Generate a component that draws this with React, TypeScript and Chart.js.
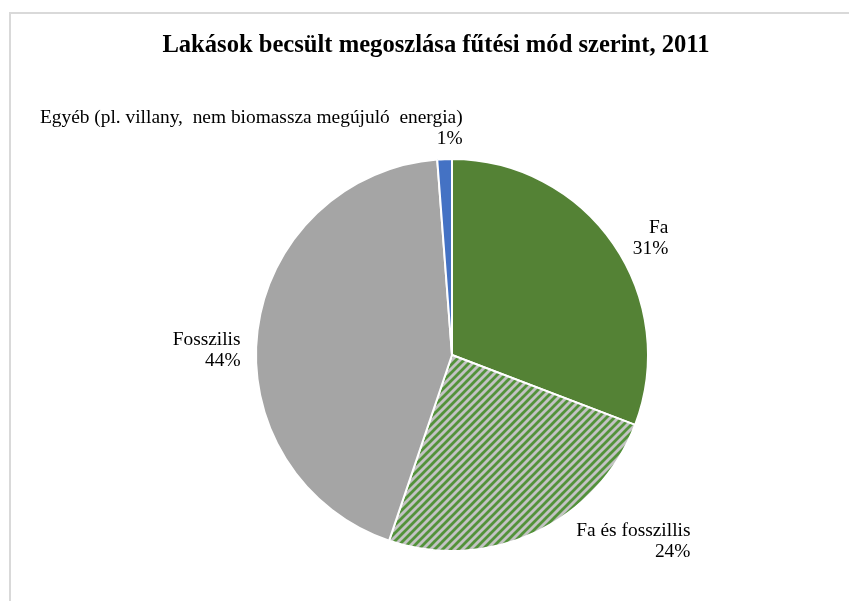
import React, { useEffect, useRef } from "react";
import { Chart, registerables } from "chart.js";

Chart.register(...registerables);

const categories = ["Fa", "Fa és fosszillis", "Fosszilis", "Egyéb (pl. villany,  nem biomassza megújuló  energia)"];
const values = [30.8, 24.4, 43.6, 1.2];
const titleText = "Lakások becsült megoszlása fűtési mód szerint, 2011";

// label placement relative to the outer edge of each slice (right-aligned text block)
const labelOffsets = [
  { dx: 55, dy: -5 },
  { dx: 155, dy: 9 },
  { dx: -17, dy: 20 },
  { dx: 18, dy: -31 },
];

function makeHatch(): CanvasPattern | string {
  const c = document.createElement("canvas");
  c.width = 8;
  c.height = 8;
  const ctx = c.getContext("2d");
  if (!ctx) return "#a5a5a5";
  ctx.fillStyle = "#c3c3c3";
  ctx.fillRect(0, 0, 8, 8);
  ctx.strokeStyle = "#53923a";
  ctx.lineWidth = 2.8;
  ctx.lineCap = "square";
  for (const k of [-8, 0, 8]) {
    ctx.beginPath();
    ctx.moveTo(k - 2, 10);
    ctx.lineTo(k + 10, -2);
    ctx.stroke();
  }
  const p = ctx.createPattern(c, "repeat");
  return p || "#a5a5a5";
}

const labelPlugin = {
  id: "outsideLabels",
  afterDraw(chart: any) {
    const ctx = chart.ctx;
    const meta = chart.getDatasetMeta(0);
    const data = chart.data.datasets[0].data as number[];
    const total = data.reduce((a, b) => a + b, 0);
    ctx.save();
    // title
    ctx.fillStyle = "#000";
    ctx.font = "bold 24.6px 'Liberation Serif', 'Times New Roman', serif";
    ctx.textAlign = "center";
    ctx.textBaseline = "alphabetic";
    ctx.fillText(titleText, 436, 52);
    // labels
    ctx.font = "19.4px 'Liberation Serif', 'Times New Roman', serif";
    ctx.textAlign = "right";
    ctx.textBaseline = "middle";
    meta.data.forEach((arc: any, i: number) => {
      const { x, y, startAngle, endAngle, outerRadius } = arc.getProps(
        ["x", "y", "startAngle", "endAngle", "outerRadius"],
        true
      );
      const mid = (startAngle + endAngle) / 2;
      const px = x + Math.cos(mid) * outerRadius + labelOffsets[i].dx;
      const py = y + Math.sin(mid) * outerRadius + labelOffsets[i].dy;
      const pct = Math.round((data[i] / total) * 100) + "%";
      ctx.fillText(chart.data.labels[i], px, py - 10.5);
      ctx.fillText(pct, px, py + 10.5);
    });
    ctx.restore();
  },
};

export default function App() {
  const ref = useRef<HTMLCanvasElement>(null);
  useEffect(() => {
    if (!ref.current) return;
    const hatch = makeHatch();
    const chart = new Chart(ref.current, {
      type: "pie",
      data: {
        labels: categories,
        datasets: [
          {
            data: values,
            backgroundColor: ["#548235", hatch as any, "#a5a5a5", "#4472c4"],
            borderColor: "#ffffff",
            borderWidth: 2,
          },
        ],
      },
      options: {
        responsive: false,
        animation: false,
        events: [],
        layout: { padding: { top: 158, bottom: 49, left: 255, right: 200 } },
        plugins: {
          legend: { display: false },
          title: { display: false },
          tooltip: { enabled: false },
        },
      },
      plugins: [labelPlugin],
    });
    return () => chart.destroy();
  }, []);
  return (
    <div>
      <div
        style={{
          position: "fixed",
          left: 9,
          top: 12,
          right: 0,
          bottom: 0,
          borderLeft: "2px solid #d9d9d9",
          borderTop: "2px solid #d9d9d9",
          background: "#fff",
        }}
      />
      <canvas
        ref={ref}
        width={849}
        height={601}
        style={{ position: "fixed", left: 0, top: 0, width: 849, height: 601 }}
      />
    </div>
  );
}
